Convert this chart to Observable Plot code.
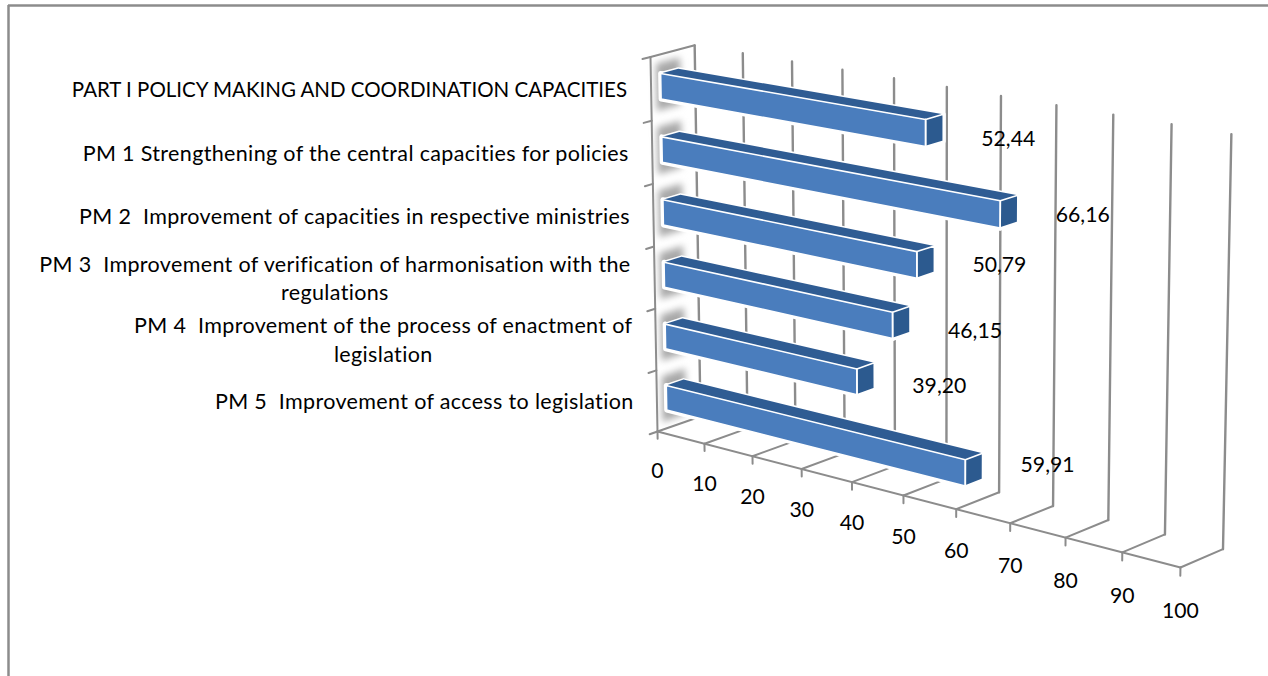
<!DOCTYPE html>
<html>
<head>
<meta charset="utf-8">
<script src="https://cdn.jsdelivr.net/npm/d3@7"></script>
<script src="https://cdn.jsdelivr.net/npm/@observablehq/plot@0.6"></script>
<style>
html,body{margin:0;padding:0;background:#fff;overflow:hidden}
svg text{white-space:pre;font-variant-ligatures:none}
.spaced text{letter-spacing:.35px}
.shadow{filter:blur(3.5px)}
</style>
</head>
<body>
<div id="chart"></div>
<script>
const categories = [
  "PART I POLICY MAKING AND COORDINATION CAPACITIES",
  "PM 1 Strengthening of the central capacities for policies",
  "PM 2  Improvement of capacities in respective ministries",
  "PM 3  Improvement of verification of harmonisation with the\nregulations",
  "PM 4  Improvement of the process of enactment of\nlegislation",
  "PM 5  Improvement of access to legislation"
];
const values = [52.44, 66.16, 50.79, 46.15, 39.20, 59.91];
const tickValues = [0, 10, 20, 30, 40, 50, 60, 70, 80, 90, 100];

const FONT = "Lato";
const FS_CAPS = 20.5, FS_TEXT = 21.5, FS_NUM = 21.2, SPACING = 0.35;
const GRID = "#8c8c8c";

// perspective camera of the 3-D box: value (0-100), depth (0-1), height (0-1) -> page position
function project(v, d, h) {
  const t = v / 100;
  const w = 1 - 0.112 * t + 0.01 * d - 0.025 * h;
  return {
    x: (657 + 390.8 * t + 50 * d - 23.25 * h) / w,
    y: (431 + 72.5 * t - 10.84 * d - 376 * h) / w
  };
}
const n = categories.length;
const rowMid = i => 1 - (i + 0.5) / n;
const halfBar = 0.0335, d0 = 0.22, d1 = 0.62;

function poly(id, corners) {
  return [...corners, corners[0]].map(([v, d, h]) => ({id, ...project(v, d, h)}));
}
function segs(list) {
  return list.flatMap((s, id) => s.map(([v, d, h]) => ({id, ...project(v, d, h)})));
}

const front = [], top_ = [], side = [], shadow = [];
values.forEach((v, i) => {
  const a = rowMid(i) + halfBar, b = rowMid(i) - halfBar, m = rowMid(i);
  front.push(...poly(i, [[0,d0,a],[v,d0,a],[v,d0,b],[0,d0,b]]));
  top_.push(...poly(i, [[0,d0,a],[v,d0,a],[v,d1,a],[0,d1,a]]));
  side.push(...poly(i, [[v,d0,a],[v,d1,a],[v,d1,b],[v,d0,b]]));
  shadow.push(...poly(i, [[0,0.12,m+0.062],[0,0.66,m+0.062],[0,0.66,m-0.062],[0,0.12,m-0.062]]));
});

const wallLines = segs(tickValues.map(v => [[v,1,0],[v,1,1]]));
const floorLines = segs(tickValues.map(v => [[v,0,0],[v,1,0]]));
const axisLines = segs([
  [[0,0,0],[100,0,0]],
  [[0,0,0],[0,0,1]],
  [[0,0,1],[0,1,1]],
  ...tickValues.map(v => [[v,0,0],[v,0,-0.02]]),
  ...d3.range(n + 1).map(i => [[0,0,i/n],[0,-0.18,i/n]])
]);

const tickLabels = tickValues.map(v => {
  const p = project(v, 0, 0);
  return {label: String(v), x: p.x, y: p.y + 40 + 0.04 * v};
});
const labelNudge = [11, 6.4, 5.8, 12.2, 10.6, -1];
const barLabels = values.map((v, i) => {
  const p = project(v, d1, rowMid(i));
  return {label: v.toFixed(2).replace(".", ","), x: p.x + 65, y: p.y + labelNudge[i]};
});
const ctx = document.createElement("canvas").getContext("2d");
const catLabels = categories.map((label, i) => {
  const p = project(0, 0, rowMid(i));
  ctx.font = `${i === 0 ? FS_CAPS : FS_TEXT}px ${FONT}`;
  const sp = i === 0 ? 0 : SPACING;
  const w = Math.max(...label.split("\n").map(s => ctx.measureText(s).width + sp * s.length));
  return {label, x: p.x - 23 - w / 2, y: p.y - 1 + (i === 0 ? 2.5 : 0)};
});

const face = (data, fill) => Plot.line(data, {x:"x", y:"y", z:"id", fill, stroke:"none", curve:"linear"});
const lines = (data, strokeWidth) => Plot.line(data, {x:"x", y:"y", z:"id", stroke:GRID, strokeWidth, curve:"linear"});
const halo = (data) => Plot.line(data, {x:"x", y:"y", z:"id", fill:"white", stroke:"white", strokeWidth:5, curve:"linear"});
const edge = (data) => Plot.line(data, {x:"x", y:"y", z:"id", stroke:"white", strokeWidth:1.6, curve:"linear"});

const chart = Plot.plot({
  width: 1268, height: 676,
  marginTop: 0, marginRight: 0, marginBottom: 0, marginLeft: 0,
  x: {type:"linear", domain:[0,1268], range:[0,1268], axis:null},
  y: {type:"linear", domain:[0,676], range:[0,676], axis:null},
  style: {background:"white", fontFamily:FONT, fontSize:`${FS_TEXT}px`, color:"#000"},
  marks: [
    Plot.ruleY([5], {x1:8, x2:1268, stroke:GRID, strokeWidth:2.5}),
    Plot.ruleX([8], {y1:5, y2:676, stroke:GRID, strokeWidth:2.5}),
    lines(wallLines, 2.4),
    lines(floorLines, 2),
    lines(axisLines, 2),
    Plot.line(shadow, {x:"x", y:"y", z:"id", fill:"#a8a8a8", stroke:"none", curve:"linear", className:"shadow"}),
    halo(front), halo(side),
    Plot.line(top_, {x:"x", y:"y", z:"id", stroke:"white", strokeWidth:3, fill:"white", curve:"linear"}),
    face(top_, "#2f5c93"),
    face(side, "#2c5a8f"),
    face(front, "#4a7dbd"),
    edge(front),
    edge(side),
    Plot.text(tickLabels, {x:"x", y:"y", text:"label", fontSize:FS_NUM, fill:"#000"}),
    Plot.text(barLabels, {x:"x", y:"y", text:"label", fontSize:FS_NUM, fill:"#000"}),
    Plot.text(catLabels.slice(0, 1), {x:"x", y:"y", text:"label", textAnchor:"middle", fontSize:FS_CAPS, fill:"#000"}),
    Plot.text(catLabels.slice(1), {x:"x", y:"y", text:"label", textAnchor:"middle", lineHeight:29/FS_TEXT, fontSize:FS_TEXT, fill:"#000", className:"spaced"})
  ]
});
document.getElementById("chart").appendChild(chart);
</script>
</body>
</html>
